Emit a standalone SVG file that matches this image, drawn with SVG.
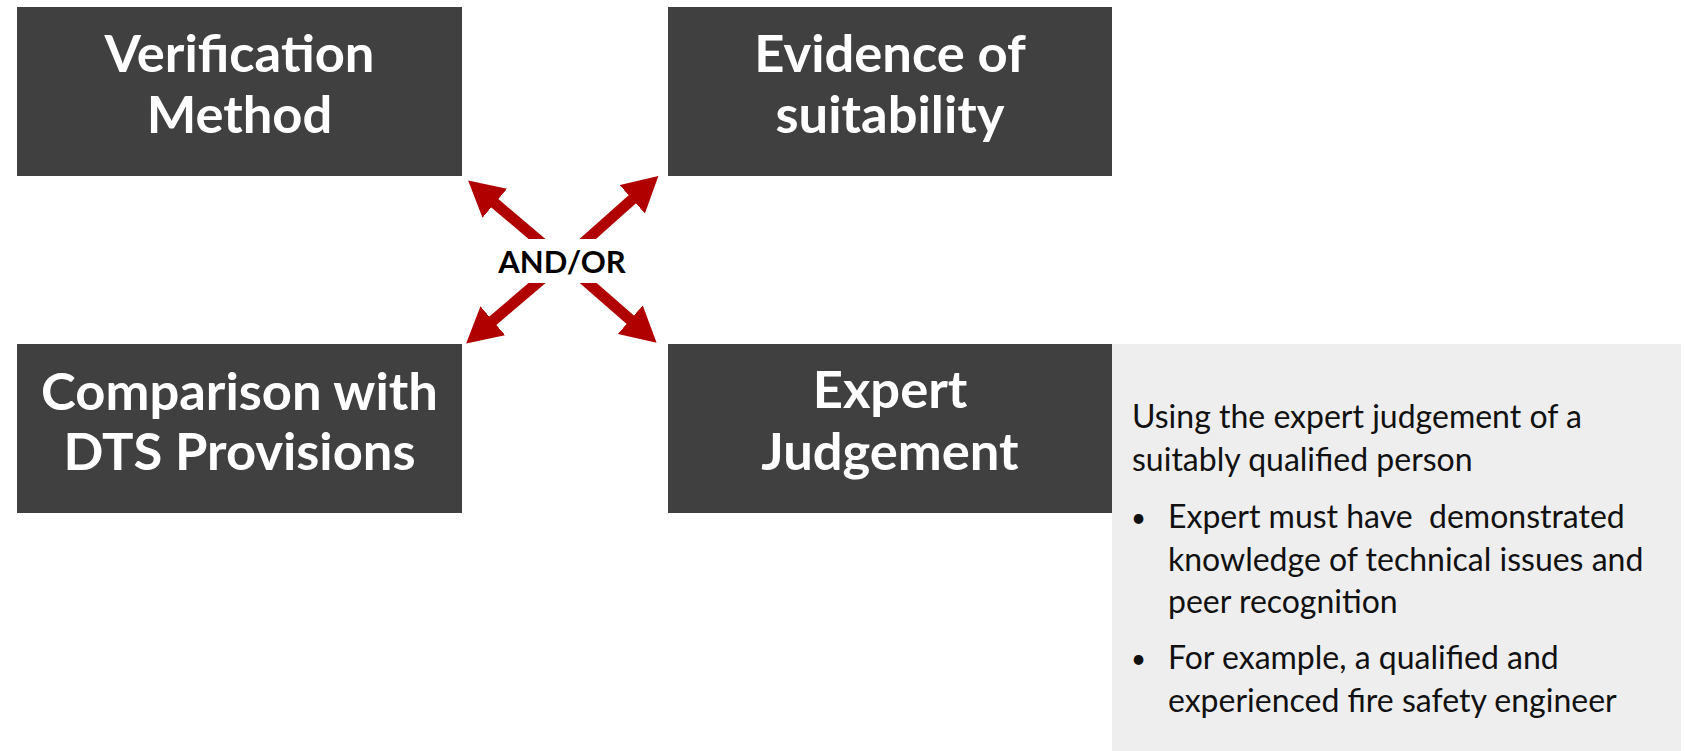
<svg xmlns="http://www.w3.org/2000/svg" width="1685" height="751" viewBox="0 0 1685 751">
  <defs>
    <style>
      .box { fill: #404040; }
      .head { font-family: Lato, "Liberation Sans", sans-serif; font-weight: 700; font-size: 52.5px; fill: #ffffff; text-anchor: middle; }
      .panel { fill: #eeeeee; }
      .body { font-family: Lato, "Liberation Sans", sans-serif; font-size: 32px; fill: #111111; }
      .bullet { font-family: Lato, "Liberation Sans", sans-serif; font-size: 26px; fill: #111111; }
      .arrow { stroke: #b00000; stroke-width: 11; fill: none; }
      .andor { font-family: Lato, "Liberation Sans", sans-serif; font-weight: 700; font-size: 31px; fill: #000000; text-anchor: middle; }
    </style>
    <marker id="tip" markerUnits="userSpaceOnUse" viewBox="0 0 35 38" refX="5" refY="19" markerWidth="35" markerHeight="38" orient="auto">
      <path d="M0,0 L35,19 L0,38 Z" fill="#b00000"/>
    </marker>
  </defs>

  <rect width="1685" height="751" fill="#ffffff"/>

  <g id="verification-method">
    <rect class="box" x="17" y="7" width="445" height="169"/>
    <text class="head" x="239.5" y="72">Verification</text>
    <text class="head" x="239.5" y="133">Method</text>
  </g>

  <g id="evidence-of-suitability">
    <rect class="box" x="668" y="7" width="444" height="169"/>
    <text class="head" x="890" y="72">Evidence of</text>
    <text class="head" x="890" y="133">suitability</text>
  </g>

  <g id="comparison-dts">
    <rect class="box" x="17" y="344" width="445" height="169"/>
    <text class="head" x="239.5" y="410">Comparison with</text>
    <text class="head" x="239.5" y="470">DTS Provisions</text>
  </g>

  <g id="expert-judgement">
    <rect class="box" x="668" y="344" width="444" height="169"/>
    <text class="head" x="890" y="408">Expert</text>
    <text class="head" x="890" y="470">Judgement</text>
  </g>

  <g id="expert-notes">
    <rect class="panel" x="1112" y="344" width="569" height="407"/>
    <text class="body" x="1132" y="428">Using the expert judgement of a</text>
    <text class="body" x="1132" y="471">suitably qualified person</text>
    <text class="bullet" x="1131" y="527">•</text>
    <text class="body" x="1168" y="528" xml:space="preserve">Expert must have  demonstrated</text>
    <text class="body" x="1168" y="571">knowledge of technical issues and</text>
    <text class="body" x="1168" y="613">peer recognition</text>
    <text class="bullet" x="1131" y="668">•</text>
    <text class="body" x="1168" y="669">For example, a qualified and</text>
    <text class="body" x="1168" y="712">experienced fire safety engineer</text>
  </g>

  <g id="connectors">
    <!-- arrows radiating from the AND/OR hub -->
    <line class="arrow" x1="563" y1="261" x2="491" y2="200" marker-end="url(#tip)"/>
    <line class="arrow" x1="563" y1="261" x2="636" y2="196" marker-end="url(#tip)"/>
    <line class="arrow" x1="563" y1="261" x2="489" y2="324" marker-end="url(#tip)"/>
    <line class="arrow" x1="563" y1="261" x2="634" y2="323" marker-end="url(#tip)"/>
    <rect x="490" y="239" width="146" height="44" fill="#ffffff"/>
    <text class="andor" x="562" y="273">AND/OR</text>
  </g>
</svg>
